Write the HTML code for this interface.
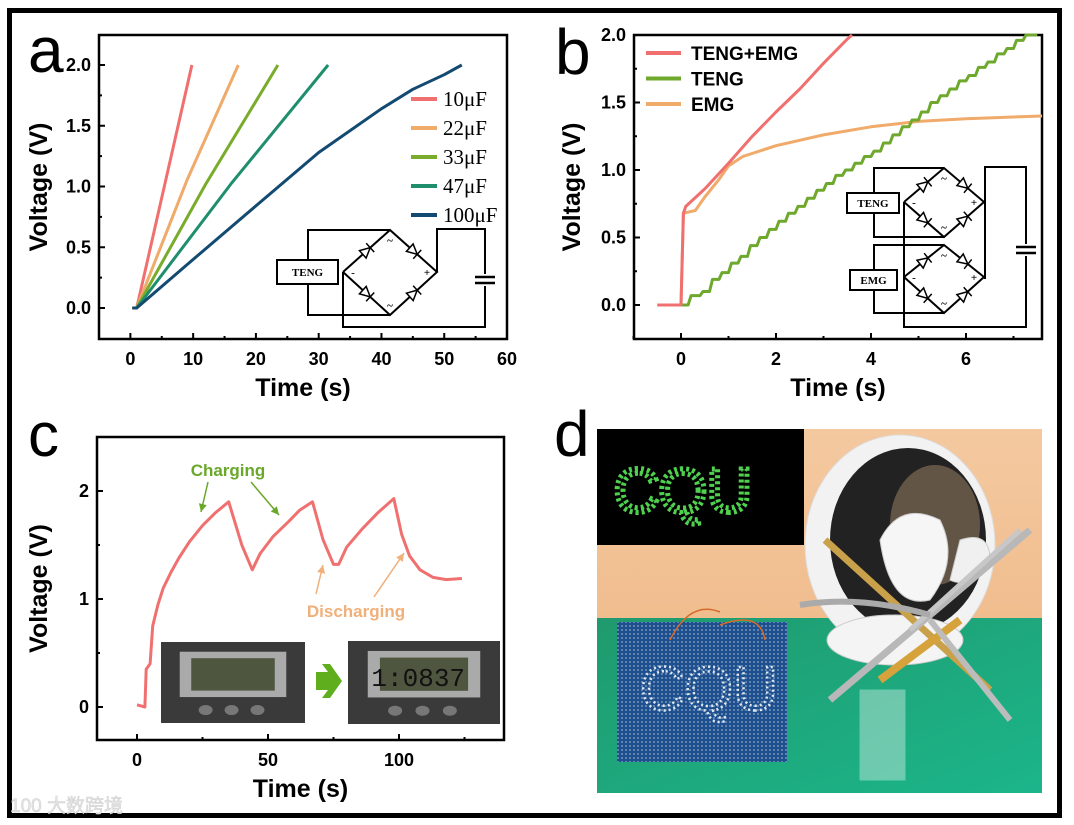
<!DOCTYPE html>
<html><head><meta charset="utf-8"><style>
html,body{margin:0;padding:0;background:#fff;}
body{width:1074px;height:825px;overflow:hidden;position:relative;font-family:"Liberation Sans",Arial,sans-serif;}
svg{position:absolute;left:0;top:0;}
</style></head><body>
<svg id="fig" width="1074" height="825" viewBox="0 0 1074 825">
<defs>
<linearGradient id="wall" x1="0" y1="0" x2="0" y2="1"><stop offset="0" stop-color="#f4c9a0"/><stop offset="1" stop-color="#f0bd8e"/></linearGradient>
<linearGradient id="table" x1="0" y1="0" x2="1" y2="1"><stop offset="0" stop-color="#1f9a6e"/><stop offset="1" stop-color="#1cb58a"/></linearGradient>
<pattern id="holes" width="4" height="4" patternUnits="userSpaceOnUse"><rect width="4" height="4" fill="#1e4f8e"/><circle cx="2" cy="2" r="0.9" fill="#8fa9c8"/></pattern>
</defs>
<rect x="9.5" y="10.5" width="1050" height="805" fill="none" stroke="#000" stroke-width="5"/>
<g id="pa"></g>
<g id="pb"></g>
<g id="pc"></g>
<g id="pd">
  <rect x="597" y="429" width="445" height="189" fill="url(#wall)"/>
  <rect x="597" y="618" width="445" height="175" fill="url(#table)"/>
  <ellipse cx="900" cy="545" rx="95" ry="110" fill="#f2f2f2" stroke="#ddd"/>
  <ellipse cx="908" cy="540" rx="78" ry="92" fill="#222"/>
  <ellipse cx="935" cy="525" rx="45" ry="60" fill="#d9b48a" opacity="0.35"/>
  <ellipse cx="895" cy="640" rx="68" ry="25" fill="#f4f4f4" stroke="#ccc"/>
  <path d="M880 540 Q900 500 940 520 Q960 560 930 600 Q890 610 880 540Z" fill="#f6f6f6" stroke="#ccc"/>
  <path d="M960 540 Q990 530 990 560 Q970 590 950 580Z" fill="#f0f0f0" stroke="#ccc"/>
  <line x1="825" y1="540" x2="990" y2="690" stroke="#c9a14a" stroke-width="7"/>
  <line x1="1030" y1="530" x2="830" y2="700" stroke="#b8b8b8" stroke-width="7"/>
  <line x1="1020" y1="530" x2="910" y2="630" stroke="#c7c7c7" stroke-width="5"/>
  <line x1="880" y1="680" x2="960" y2="620" stroke="#d6a23b" stroke-width="8"/>
  <line x1="930" y1="620" x2="1010" y2="720" stroke="#bcbcbc" stroke-width="6"/>
  <path d="M800 605 Q860 595 930 615" fill="none" stroke="#aaa" stroke-width="6"/>
  <rect x="860" y="690" width="45" height="90" fill="#e8f5f0" opacity="0.4" stroke="#cfe"/>
  <rect x="617" y="622" width="170" height="140" fill="url(#holes)"/>
  <text x="640" y="710" font-size="62" fill="none" stroke="#dfe8f0" stroke-width="2.5" stroke-dasharray="2 3" font-family="Liberation Sans">CQU</text>
  <path d="M670 640 Q690 600 720 612 M720 625 Q760 610 765 640" fill="none" stroke="#d76a2a" stroke-width="1.5"/>
  <rect x="597" y="429" width="207" height="116" fill="#000"/>
  <text x="614" y="512" font-size="62" fill="none" stroke="#4fd04f" stroke-width="5" stroke-dasharray="3 3" font-family="Liberation Sans">CQU</text>
</g>
<text x="28" y="72" font-size="64">a</text>
<text x="555" y="74" font-size="64">b</text>
<text x="28" y="456" font-size="62">c</text>
<text x="554" y="456" font-size="64">d</text>
<text x="10" y="812" font-size="19" fill="#e4e4e4" stroke="#cfcfcf" stroke-width="0.5" font-family="Liberation Sans,'Noto Sans CJK SC',sans-serif">100 大数跨境</text>
</svg>
<script>
// ---------- Panel a data ----------
const aSeriesNames = ["10μF","22μF","33μF","47μF","100μF"];
const aColors = ["#f07070","#f0aa6a","#78ac2a","#1e8e6c","#134a72"];
const aT10 = [0.3,1.0,9.8]; const aV10 = [0,0,2.0];
const aT22 = [0.3,1.0,9,17.2]; const aV22 = [0,0,1.05,2.0];
const aT33 = [0.3,1.0,12,23.5]; const aV33 = [0,0,1.02,2.0];
const aT47 = [0.3,1.0,16,31.5]; const aV47 = [0,0,1.02,2.0];
const aT100 = [0.3,1.0,10,20,30,40,45,50,52.8]; const aV100 = [0,0,0.4,0.84,1.28,1.64,1.8,1.92,2.0];
const aXTicks = [0,10,20,30,40,50,60];
const aYTicks = [0.0,0.5,1.0,1.5,2.0];
// ---------- Panel b data ----------
const bSeriesNames = ["TENG+EMG","TENG","EMG"];
const bT_te = [-0.5,0,0.05,0.1,0.5,1,1.5,2,2.5,3,3.5,3.6];
const bV_te = [0,0,0.68,0.73,0.86,1.05,1.25,1.43,1.6,1.79,1.97,2.0];
const bT_t = [0,0.3,0.5,0.7,0.9,1.1,1.3,1.5,1.7,1.9,2.1,2.3,2.5,2.7,2.9,3.1,3.3,3.5,3.7,3.9,4.1,4.3,4.5,4.7,4.9,5.1,5.3,5.5,5.7,5.9,6.1,6.3,6.5,6.7,6.9,7.1,7.3,7.5];
const bV_t = [0,0.07,0.1,0.19,0.24,0.31,0.36,0.44,0.5,0.56,0.62,0.68,0.73,0.79,0.85,0.9,0.96,1.0,1.05,1.1,1.14,1.2,1.26,1.32,1.37,1.43,1.5,1.55,1.6,1.66,1.7,1.76,1.8,1.86,1.9,1.96,2.0,2.0];
const bT_e = [-0.5,0,0.05,0.3,0.5,0.8,1,1.3,2,3,4,5,6,7.6];
const bV_e = [0,0,0.68,0.7,0.8,0.93,1.03,1.1,1.18,1.26,1.32,1.36,1.38,1.4];
const bXTicks = [0,2,4,6];
const bYTicks = [0.0,0.5,1.0,1.5,2.0];
// ---------- Panel c data ----------
const cT = [0,3,3.5,5,6,8,10,13,16,20,25,30,35,40,44,47,52,58,62,67,71,75,77,80,86,92,98,101,104,108,113,118,124];
const cV = [0.02,0.0,0.35,0.4,0.75,0.95,1.1,1.25,1.38,1.53,1.68,1.8,1.9,1.5,1.27,1.42,1.58,1.72,1.82,1.9,1.55,1.32,1.32,1.48,1.65,1.8,1.93,1.6,1.4,1.27,1.2,1.18,1.19];
const cXTicks = [0,50,100];
const cYTicks = [0,1,2];

const NS="http://www.w3.org/2000/svg";
function mk(parent,tag,attrs){const e=document.createElementNS(NS,tag);for(const k in attrs)e.setAttribute(k,attrs[k]);parent.appendChild(e);return e;}
function lin(d0,d1,r0,r1){return v=>r0+(v-d0)/(d1-d0)*(r1-r0);}

function axes(g,box,sx,sy,xt,yt,xminor,yminor,fmt,xlab,ylab,ylx){
  const r=mk(g,'rect',{x:box[0],y:box[1],width:box[2]-box[0],height:box[3]-box[1],fill:'none',stroke:'#000','stroke-width':2.5});
  
  
  xt.forEach(v=>{mk(g,'line',{x1:sx(v),x2:sx(v),y1:box[3],y2:box[3]-6,stroke:'#000','stroke-width':2});
    const t=mk(g,'text',{x:sx(v),y:box[3]+26,'font-size':18,'font-weight':'bold','text-anchor':'middle'});t.textContent=v;
    
    });
  xminor.forEach(v=>mk(g,'line',{x1:sx(v),x2:sx(v),y1:box[3],y2:box[3]-3,stroke:'#000','stroke-width':2}));
  yt.forEach(v=>{mk(g,'line',{x1:box[0],x2:box[0]+6,y1:sy(v),y2:sy(v),stroke:'#000','stroke-width':2});
    const t=mk(g,'text',{x:box[0]-8,y:sy(v)+6,'font-size':18,'font-weight':'bold','text-anchor':'end'});t.textContent=fmt(v);
    
    });
  yminor.forEach(v=>mk(g,'line',{x1:box[0],x2:box[0]+3,y1:sy(v),y2:sy(v),stroke:'#000','stroke-width':2}));
  const xl=mk(g,'text',{x:(box[0]+box[2])/2,y:box[3]+57,'font-size':25,'font-weight':'bold','text-anchor':'middle'});xl.textContent=xlab;
  
  
  const cy=(box[1]+box[3])/2;
  const yl=mk(g,'text',{x:ylx,y:cy,'font-size':25,'font-weight':'bold','text-anchor':'middle',transform:`rotate(-90 ${ylx} ${cy})`});yl.textContent=ylab;
  
  
}
function line(g,xs,ys,sx,sy,color,w,name){
  const p=mk(g,'polyline',{points:xs.map((x,i)=>sx(x).toFixed(1)+','+sy(ys[i]).toFixed(1)).join(' '),fill:'none',stroke:color,'stroke-width':w,'stroke-linejoin':'round'});
  
  
}
function stairs(g,xs,ys,sx,sy,color,w,name){
  let d='M'+sx(xs[0]).toFixed(1)+','+sy(ys[0]).toFixed(1);
  for(let i=1;i<xs.length;i++){
    const xm=(sx(xs[i-1])+sx(xs[i]))/2;
    d+=' L'+xm.toFixed(1)+','+sy(ys[i-1]).toFixed(1)+' L'+(xm+3).toFixed(1)+','+sy(ys[i]).toFixed(1)+' L'+sx(xs[i]).toFixed(1)+','+sy(ys[i]).toFixed(1);
  }
  const p=mk(g,'path',{d:d,fill:'none',stroke:color,'stroke-width':w,'stroke-linejoin':'round'});
  
  
}
function wires(g,pts){mk(g,'polyline',{points:pts.map(p=>p.join(',')).join(' '),fill:'none',stroke:'#000','stroke-width':2});}
function bridge(g,l,t,r,b){
  wires(g,[l,t,r,b,l]);
  const ds=[[l,t],[t,r],[b,r],[l,b]];
  ds.forEach(([p,q])=>{const mx=(p[0]+q[0])/2,my=(p[1]+q[1])/2;const ang=Math.atan2(q[1]-p[1],q[0]-p[0])*180/Math.PI;
    mk(g,'path',{d:'M-5,-5 L5,0 L-5,5 Z M5,-6 L5,6',fill:'#fff',stroke:'#000','stroke-width':1.5,transform:`translate(${mx},${my}) rotate(${ang})`});});
  const s=(x,y,c)=>{const t=mk(g,'text',{x:x,y:y,'font-size':11,'font-weight':'bold','text-anchor':'middle','font-family':'Liberation Serif'});t.textContent=c;};
  s(l[0]+10,l[1]+4,'-');s(r[0]-10,r[1]+4,'+');s(t[0],t[1]+14,'~');s(b[0],b[1]-6,'~');
}
function box(g,x,y,w,h,label){mk(g,'rect',{x:x,y:y,width:w,height:h,fill:'#fff',stroke:'#000','stroke-width':2});
  const t=mk(g,'text',{x:x+w/2,y:y+h/2+4,'font-size':11,'font-weight':'bold','text-anchor':'middle','font-family':'Liberation Serif'});t.textContent=label;}
function cap(g,x,y){mk(g,'rect',{x:x-10,y:y-6,width:20,height:12,fill:'#fff',stroke:'none'});
  mk(g,'line',{x1:x-10,x2:x+10,y1:y-3,y2:y-3,stroke:'#000','stroke-width':2.5});mk(g,'line',{x1:x-10,x2:x+10,y1:y+3,y2:y+3,stroke:'#000','stroke-width':2.5});}

// ---- Panel a
(function(){
  const g=document.getElementById('pa');
  const bx=[99,35,507,339];
  const sx=lin(-5,60,99,507), sy=lin(0,2,308,65);
  axes(g,bx,sx,sy,aXTicks,aYTicks,[5,15,25,35,45,55],[0.25,0.75,1.25,1.75],v=>v.toFixed(1),'Time (s)','Voltage (V)',47);
  const c=mk(g,'g',{});
  wires(c,[[390,230],[308,230],[308,315],[390,315]]);
  wires(c,[[437,272],[437,229],[485,229],[485,327],[343,327],[343,272]]);
  bridge(c,[343,272],[390,230],[437,272],[390,315]);
  box(c,277,260,61,24,'TENG');cap(c,485,280);
  const T=[aT10,aT22,aT33,aT47,aT100],V=[aV10,aV22,aV33,aV47,aV100];
  T.forEach((t,i)=>line(g,t,V[i],sx,sy,aColors[i],3,'line-'+aSeriesNames[i]));
  aSeriesNames.forEach((n,i)=>{const y=99+i*29;
    mk(g,'line',{x1:411,x2:437,y1:y,y2:y,stroke:aColors[i],'stroke-width':4});
    const t=mk(g,'text',{x:443,y:y+7,'font-size':21,'font-family':'Liberation Serif'});t.textContent=n;
    
    });
})();
// ---- Panel b
(function(){
  const g=document.getElementById('pb');
  const bx=[634,35,1042,339];
  const sx=lin(0,2,681,776), sy=lin(0,2,305,35);
  axes(g,bx,sx,sy,bXTicks,bYTicks,[-1,1,3,5,7],[0.25,0.75,1.25,1.75],v=>v.toFixed(1),'Time (s)','Voltage (V)',580);
  const c=mk(g,'g',{});
  wires(c,[[944,168],[874,168],[874,237],[944,237]]);
  wires(c,[[944,245],[874,245],[874,313],[944,313]]);
  wires(c,[[904,202],[904,327],[1026,327],[1026,167],[985,167],[985,279]]);
  bridge(c,[904,202],[944,168],[984,202],[944,237]);
  bridge(c,[904,277],[944,245],[984,277],[944,313]);
  box(c,847,193,52,20,'TENG');box(c,850,270,47,20,'EMG');cap(c,1026,250);
  const cl=mk(g,'clipPath',{id:'cb'});mk(cl,'rect',{x:634,y:33,width:408,height:306});
  const d=mk(g,'g',{'clip-path':'url(#cb)'});
  line(d,bT_e,bV_e,sx,sy,'#f0aa6a',3,'line-EMG');
  stairs(d,bT_t,bV_t,sx,sy,'#6ea82c',3,'line-TENG');
  line(d,bT_te,bV_te,sx,sy,'#f07070',3,'line-TENG-EMG');
  const cols=['#f07070','#6ea82c','#f0aa6a'];
  bSeriesNames.forEach((n,i)=>{const y=53+i*25.5;
    mk(g,'line',{x1:646,x2:681,y1:y,y2:y,stroke:cols[i],'stroke-width':4});
    const t=mk(g,'text',{x:691,y:y+7,'font-size':19,'font-weight':'bold'});t.textContent=n;
    
    });
})();
// ---- Panel c
(function(){
  const g=document.getElementById('pc');
  const bx=[97,437,504,740];
  const sx=lin(0,100,137,399), sy=lin(0,2,707,491);
  axes(g,bx,sx,sy,cXTicks,cYTicks,[25,75,125],[0.5,1.5],v=>v,'Time (s)','Voltage (V)',47);
  line(g,cT,cV,sx,sy,'#f07070',3,'line-charge-discharge');
  const t1=mk(g,'text',{x:228,y:476,'font-size':17,'font-weight':'bold',fill:'#6aa82a','text-anchor':'middle'});t1.textContent='Charging';
  
  
  const t2=mk(g,'text',{x:356,y:617,'font-size':17,'font-weight':'bold',fill:'#f0b07a','text-anchor':'middle'});t2.textContent='Discharging';
  
  
  const arr=(x1,y1,x2,y2,c)=>{mk(g,'line',{x1,y1,x2,y2,stroke:c,'stroke-width':1.5});
    const a=Math.atan2(y2-y1,x2-x1);mk(g,'path',{d:'M0,0 L-8,-4 L-8,4Z',fill:c,transform:`translate(${x2},${y2}) rotate(${a*180/Math.PI})`});};
  arr(208,482,201,512,'#6aa82a');arr(251,482,279,515,'#6aa82a');
  arr(316,594,323,565,'#f0b07a');arr(374,597,404,553,'#f0b07a');
  const clock=(x,y,w,h,txt)=>{const k=mk(g,'g',{});
    
    
    mk(k,'rect',{x,y,width:w,height:h,fill:'#3a3a3a'});
    mk(k,'rect',{x:x+w*0.13,y:y+h*0.12,width:w*0.74,height:h*0.56,fill:'#aaa'});
    mk(k,'rect',{x:x+w*0.21,y:y+h*0.2,width:w*0.58,height:h*0.4,fill:'#4f5640'});
    [0.31,0.49,0.67].forEach(f=>mk(k,'ellipse',{cx:x+w*f,cy:y+h*0.84,rx:7,ry:5,fill:'#777'}));
    if(txt){const t=mk(k,'text',{x:x+w*0.77,y:y+h*0.54,'font-size':26,'font-family':'Liberation Mono','text-anchor':'end',fill:'#111'});t.textContent=txt;}
  };
  clock(161,642,144,81,'');clock(348,641,152,83,'1:0837');
  mk(g,'path',{d:'M316,672 L328,672 L322,664 L330,664 L342,681 L330,698 L322,698 L328,690 L316,690Z',fill:'#5fae1e'});
})();
</script>
</body></html>
